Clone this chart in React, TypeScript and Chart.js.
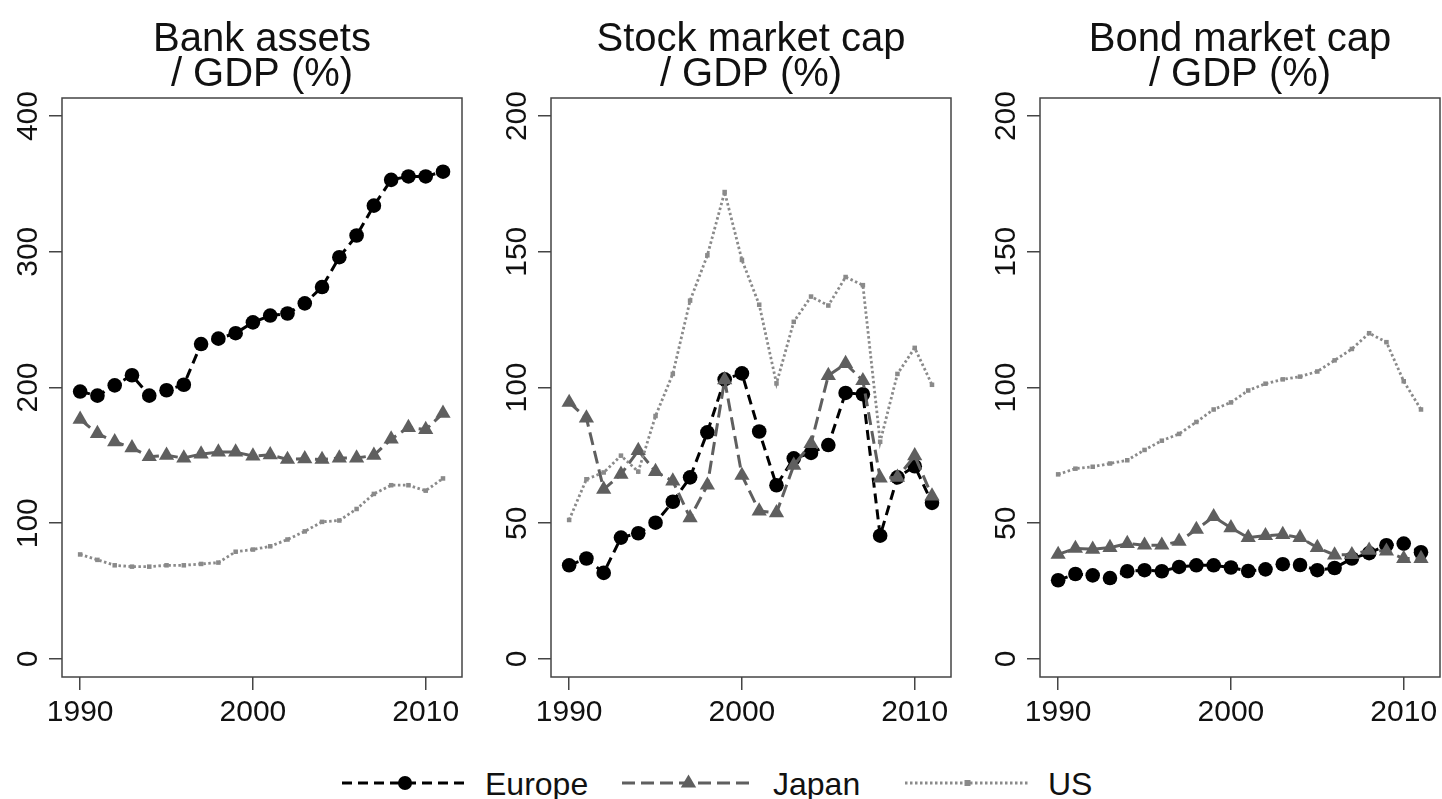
import React, { useEffect, useRef } from 'react';
import { Chart, registerables } from 'chart.js';

Chart.register(...registerables);

const FONT = '"Liberation Sans", Arial, Helvetica, sans-serif';

// ---- data ----
const years = [1990, 1991, 1992, 1993, 1994, 1995, 1996, 1997, 1998, 1999, 2000, 2001, 2002, 2003, 2004, 2005, 2006, 2007, 2008, 2009, 2010, 2011];

const seriesLabels = ['Europe', 'Japan', 'US'];

const europeBank = [197, 194, 201.6, 209, 194, 198, 202, 232, 236, 240, 248, 253, 254.5, 262, 274, 296, 312, 334, 353, 355.5, 355.5, 359];
const japanBank = [176.6, 166, 160, 155.6, 149, 150, 148, 151, 152.4, 152.4, 149.5, 150.4, 147, 147.5, 147, 148, 148, 150, 162, 170.5, 169, 181];
const usBank = [77, 73, 69, 68, 68, 69, 69, 70, 71, 79, 80.6, 83, 88, 94, 101, 102, 110.5, 121.6, 128, 128, 124, 133];

const europeStock = [34.5, 37, 31.7, 44.7, 46.3, 50.2, 57.9, 66.9, 83.5, 103, 105.2, 83.8, 64, 73.9, 75.9, 78.8, 98, 97.5, 45.4, 66.9, 71, 57.5];
const japanStock = [94.5, 88.7, 62.5, 68, 76.8, 69, 65.5, 52, 64, 102.8, 67.6, 54.5, 53.8, 71.3, 79.3, 104.4, 108.8, 102.5, 66.6, 66.9, 74.8, 60];
const usStock = [51.2, 66.2, 68.7, 74.9, 69, 89.5, 105, 132, 148.7, 172, 147, 130.5, 101.5, 124.2, 133.5, 130.2, 140.7, 137.7, 80, 105, 114.6, 101];

const europeBond = [29, 31.3, 30.8, 29.8, 32.3, 32.7, 32.3, 33.9, 34.5, 34.5, 33.7, 32.4, 33, 34.9, 34.6, 32.7, 33.5, 37, 39, 41.9, 42.5, 39.3];
const japanBond = [38.5, 40.7, 40.4, 41, 42.5, 41.9, 41.9, 43.3, 47.7, 52.4, 48.3, 44.7, 45.4, 45.8, 44.7, 41, 38.3, 38.4, 40, 39.7, 37, 37];
const usBond = [68, 70.1, 70.8, 72, 73.2, 77, 80.4, 82.9, 87.3, 91.9, 94.5, 98.9, 101.4, 103, 104, 105.9, 110, 114.2, 120, 116.7, 102.3, 91.9];

const titleBank = ['Bank assets', '/ GDP (%)'];
const titleStock = ['Stock market cap', '/ GDP (%)'];
const titleBond = ['Bond market cap', '/ GDP (%)'];

const xTickYears = [1990, 2000, 2010];
const yTicksBank = [0, 100, 200, 300, 400];
const yTicksMarket = [0, 50, 100, 150, 200];

// ---- styles ----
const EUROPE_COLOR = '#000000';
const JAPAN_COLOR = '#5f5f5f';
const US_COLOR = '#8a8a8a';
const AXIS_COLOR = '#444444';
const TEXT_COLOR = '#111111';

const framePlugin = {
  id: 'rframe',
  afterDraw(chart: any, _args: any, opts: any) {
    const { ctx, chartArea, scales } = chart;
    ctx.save();
    // box
    ctx.strokeStyle = AXIS_COLOR;
    ctx.lineWidth = 1.5;
    ctx.strokeRect(chartArea.left, chartArea.top, chartArea.right - chartArea.left, chartArea.bottom - chartArea.top);
    // tick labels
    ctx.fillStyle = TEXT_COLOR;
    ctx.font = `30px ${FONT}`;
    ctx.textAlign = 'center';
    ctx.textBaseline = 'alphabetic';
    scales.x.ticks.forEach((t: any) => {
      ctx.fillText(String(t.value), scales.x.getPixelForValue(t.value), chartArea.bottom + 44);
    });
    scales.y.ticks.forEach((t: any) => {
      ctx.save();
      ctx.translate(chartArea.left - 25, scales.y.getPixelForValue(t.value));
      ctx.rotate(-Math.PI / 2);
      ctx.fillText(String(t.value), 0, 0);
      ctx.restore();
    });
    // title
    const cx = (chartArea.left + chartArea.right) / 2;
    ctx.font = `40px ${FONT}`;
    const lines: string[] = opts.title || [];
    lines.forEach((line, i) => {
      ctx.fillText(line, cx, chartArea.top - 47 + i * 35);
    });
    ctx.restore();
  },
};

type PanelProps = {
  title: string[];
  europe: number[];
  japan: number[];
  us: number[];
  yTicks: number[];
  yMin: number;
  yMax: number;
  left: number;
};

function Panel({ title, europe, japan, us, yTicks, yMin, yMax, left }: PanelProps) {
  const ref = useRef<HTMLCanvasElement | null>(null);
  useEffect(() => {
    if (!ref.current) return;
    const toPts = (arr: number[]) => arr.map((v, i) => ({ x: years[i], y: v }));
    const chart = new Chart(ref.current, {
      type: 'line',
      data: {
        datasets: [
          {
            label: seriesLabels[0],
            data: toPts(europe),
            borderColor: EUROPE_COLOR,
            backgroundColor: EUROPE_COLOR,
            borderWidth: 3,
            borderDash: [10, 6],
            pointStyle: 'circle',
            pointRadius: 7.3,
            pointBorderWidth: 0,
            pointBackgroundColor: EUROPE_COLOR,
            tension: 0,
            order: 3,
          },
          {
            label: seriesLabels[1],
            data: toPts(japan),
            borderColor: JAPAN_COLOR,
            backgroundColor: JAPAN_COLOR,
            borderWidth: 3,
            borderDash: [13, 6],
            pointStyle: 'triangle',
            pointRadius: 8.8,
            pointBorderWidth: 0,
            pointBackgroundColor: JAPAN_COLOR,
            tension: 0,
            order: 2,
          },
          {
            label: seriesLabels[2],
            data: toPts(us),
            borderColor: US_COLOR,
            backgroundColor: US_COLOR,
            borderWidth: 2.8,
            borderDash: [2.5, 2.5],
            pointStyle: 'rect',
            pointRadius: 3.2,
            pointBorderWidth: 0,
            pointBackgroundColor: US_COLOR,
            tension: 0,
            order: 1,
          },
        ],
      },
      options: {
        animation: false,
        responsive: false,
        maintainAspectRatio: false,
        layout: { autoPadding: false, padding: { top: 98, right: 2, left: 0, bottom: 0 } },
        plugins: {
          legend: { display: false },
          tooltip: { enabled: false },
          title: { display: false },
          // @ts-ignore
          rframe: { title },
        },
        scales: {
          x: {
            type: 'linear',
            min: 1988.95,
            max: 2012.1,
            afterBuildTicks: (s: any) => {
              s.ticks = xTickYears.map((v) => ({ value: v }));
            },
            afterFit: (s: any) => {
              s.height = 63;
            },
            ticks: { display: false },
            grid: { drawOnChartArea: false, drawTicks: true, tickLength: 13, color: AXIS_COLOR, lineWidth: 1.5 },
            border: { display: false },
          },
          y: {
            type: 'linear',
            min: yMin,
            max: yMax,
            afterBuildTicks: (s: any) => {
              s.ticks = yTicks.map((v) => ({ value: v }));
            },
            afterFit: (s: any) => {
              s.width = 62;
            },
            ticks: { display: false },
            grid: { drawOnChartArea: false, drawTicks: true, tickLength: 13, color: AXIS_COLOR, lineWidth: 1.5 },
            border: { display: false },
          },
        },
      } as any,
      plugins: [framePlugin],
    });
    return () => chart.destroy();
  }, []);
  return (
    <canvas
      ref={ref}
      width={464}
      height={740}
      style={{ position: 'absolute', left, top: 0, width: 464, height: 740 }}
    />
  );
}

function LegendSample({ kind }: { kind: number }) {
  if (kind === 0) {
    return (
      <svg width={126} height={20} style={{ display: 'block' }}>
        <line x1={0} y1={10} x2={126} y2={10} stroke={EUROPE_COLOR} strokeWidth={3} strokeDasharray="10 6" />
        <circle cx={63} cy={10} r={7} fill={EUROPE_COLOR} />
      </svg>
    );
  }
  if (kind === 1) {
    return (
      <svg width={133} height={20} style={{ display: 'block' }}>
        <line x1={0} y1={10} x2={133} y2={10} stroke={JAPAN_COLOR} strokeWidth={3} strokeDasharray="13 6" />
        <polygon points="66.5,1.5 74.2,14.5 58.8,14.5" fill={JAPAN_COLOR} />
      </svg>
    );
  }
  return (
    <svg width={125} height={20} style={{ display: 'block' }}>
      <line x1={0} y1={10} x2={125} y2={10} stroke={US_COLOR} strokeWidth={2.8} strokeDasharray="2.5 2.5" />
      <rect x={59.5} y={7} width={6} height={6} fill={US_COLOR} />
    </svg>
  );
}

function Legend() {
  const sampleLeft = [342, 622, 905];
  const textLeft = [485, 773, 1048];
  return (
    <>
      {seriesLabels.map((lab, i) => (
        <React.Fragment key={lab}>
          <div style={{ position: 'absolute', left: sampleLeft[i], top: 773 }}>
            <LegendSample kind={i} />
          </div>
          <div
            style={{
              position: 'absolute',
              left: textLeft[i],
              top: 765,
              fontFamily: FONT,
              fontSize: 32,
              lineHeight: '38px',
              color: TEXT_COLOR,
              whiteSpace: 'nowrap',
            }}
          >
            {lab}
          </div>
        </React.Fragment>
      ))}
    </>
  );
}

export default function App() {
  return (
    <div
      style={{
        position: 'absolute',
        left: 0,
        top: 0,
        width: 1442,
        height: 799,
        background: '#ffffff',
        overflow: 'hidden',
      }}
    >
      <Panel title={titleBank} europe={europeBank} japan={japanBank} us={usBank} yTicks={yTicksBank} yMin={-13.3} yMax={413.3} left={0} />
      <Panel title={titleStock} europe={europeStock} japan={japanStock} us={usStock} yTicks={yTicksMarket} yMin={-6.65} yMax={206.65} left={489} />
      <Panel title={titleBond} europe={europeBond} japan={japanBond} us={usBond} yTicks={yTicksMarket} yMin={-6.65} yMax={206.65} left={978} />
      <Legend />
    </div>
  );
}
